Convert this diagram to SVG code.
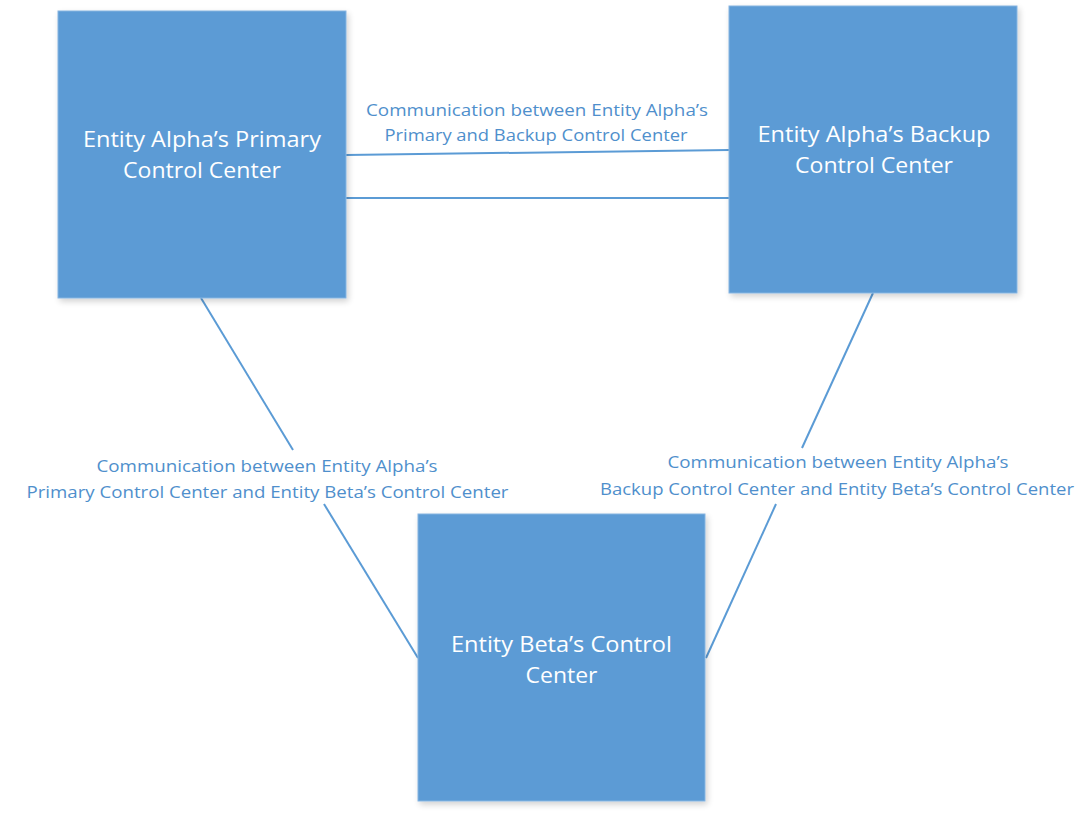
<svg xmlns="http://www.w3.org/2000/svg" width="1081" height="820" viewBox="0 0 1081 820">
  <style>
    .box { fill: #5B9BD5; stroke: #86B4E0; stroke-width: 1; filter: url(#shadow); }
    .title { font-family: "Open Sans", "Liberation Sans", sans-serif; font-size: 22px; fill: #FFFFFF; text-anchor: middle; }
    .link { stroke: #5B9BD5; stroke-width: 2; fill: none; }
    .label { font-family: "Open Sans", "Liberation Sans", sans-serif; font-size: 16px; fill: #4F8FCC; text-anchor: middle; }
  </style>
  <defs>
    <filter id="shadow" x="-5%" y="-5%" width="112%" height="112%">
      <feGaussianBlur in="SourceAlpha" stdDeviation="3"/>
      <feOffset dx="2" dy="3" result="blur"/>
      <feComponentTransfer><feFuncA type="linear" slope="0.18"/></feComponentTransfer>
      <feMerge><feMergeNode/><feMergeNode in="SourceGraphic"/></feMerge>
    </filter>
  </defs>
  <rect width="1081" height="820" fill="#FFFFFF"/>

  <!-- connectors -->
  <g id="connectors">
    <line class="link" x1="346" y1="155" x2="729" y2="150"/>
    <line class="link" x1="346" y1="198" x2="729" y2="198"/>
    <line class="link" x1="201" y1="298" x2="293" y2="450"/>
    <line class="link" x1="324" y1="504" x2="418" y2="658"/>
    <line class="link" x1="873" y1="293" x2="802" y2="448"/>
    <line class="link" x1="776" y1="504" x2="706" y2="658"/>
    <g id="label-primary-backup">
      <text class="label" x="537" y="116" textLength="342" lengthAdjust="spacingAndGlyphs">Communication between Entity Alpha’s</text>
      <text class="label" x="536" y="141" textLength="303" lengthAdjust="spacingAndGlyphs">Primary and Backup Control Center</text>
    </g>
    <g id="label-primary-beta">
      <text class="label" x="267" y="472" textLength="341" lengthAdjust="spacingAndGlyphs">Communication between Entity Alpha’s</text>
      <text class="label" x="267.5" y="498" textLength="482" lengthAdjust="spacingAndGlyphs">Primary Control Center and Entity Beta’s Control Center</text>
    </g>
    <g id="label-backup-beta">
      <text class="label" x="838" y="468" textLength="341" lengthAdjust="spacingAndGlyphs">Communication between Entity Alpha’s</text>
      <text class="label" x="837" y="495" textLength="474" lengthAdjust="spacingAndGlyphs">Backup Control Center and Entity Beta’s Control Center</text>
    </g>
  </g>

  <!-- nodes -->
  <g id="alpha-primary">
    <rect class="box" x="58" y="11" width="288" height="287"/>
    <text class="title" x="202" y="147" textLength="238" lengthAdjust="spacingAndGlyphs">Entity Alpha’s Primary</text>
    <text class="title" x="202" y="178" textLength="158" lengthAdjust="spacingAndGlyphs">Control Center</text>
  </g>
  <g id="alpha-backup">
    <rect class="box" x="729" y="6" width="288" height="287"/>
    <text class="title" x="874" y="142" textLength="233" lengthAdjust="spacingAndGlyphs">Entity Alpha’s Backup</text>
    <text class="title" x="874" y="173" textLength="158" lengthAdjust="spacingAndGlyphs">Control Center</text>
  </g>
  <g id="beta">
    <rect class="box" x="418" y="514" width="287" height="287"/>
    <text class="title" x="561.5" y="652" textLength="221" lengthAdjust="spacingAndGlyphs">Entity Beta’s Control</text>
    <text class="title" x="561.5" y="683" textLength="72" lengthAdjust="spacingAndGlyphs">Center</text>
  </g>
</svg>
